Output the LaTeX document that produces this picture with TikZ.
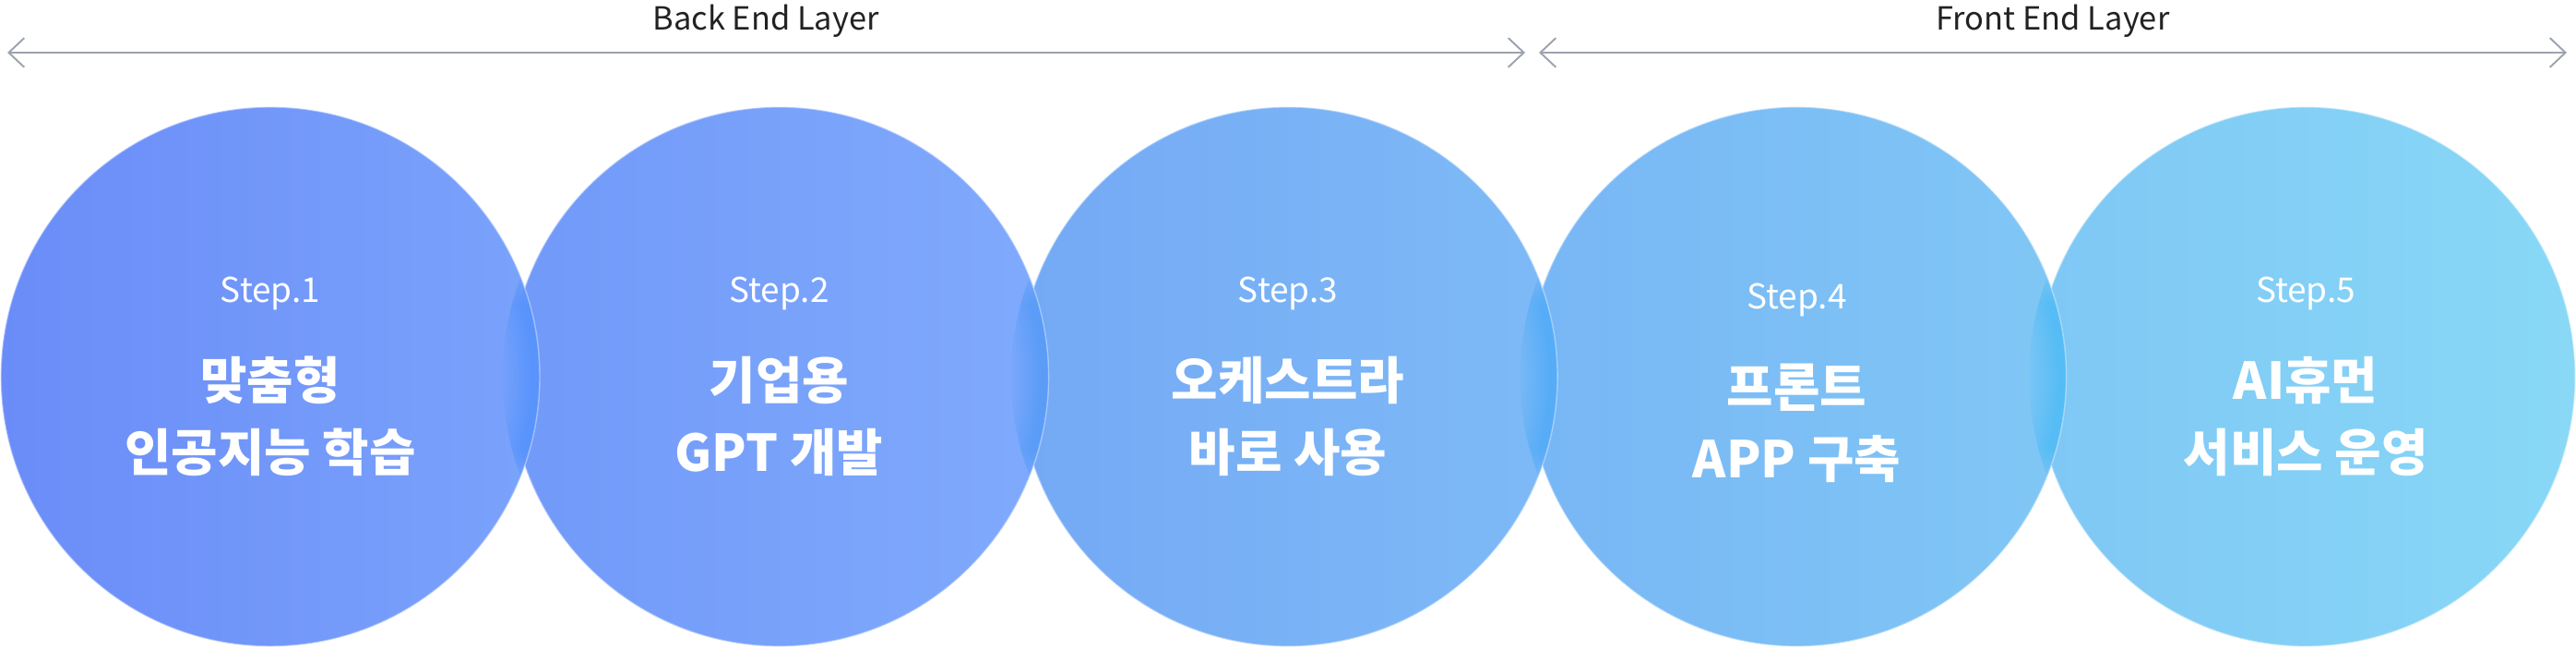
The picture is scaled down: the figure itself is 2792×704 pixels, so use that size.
\documentclass[tikz,border=0pt]{standalone}
\usepackage{fontspec}
\setmainfont{Noto Sans CJK KR}
\usetikzlibrary{arrows.meta,calc,fadings}

\definecolor{cOneL}{HTML}{6A8CF8}
\definecolor{cOneR}{HTML}{7AA3FB}
\definecolor{cTwoL}{HTML}{7199F9}
\definecolor{cTwoR}{HTML}{80AAFC}
\definecolor{cThreeL}{HTML}{74A9F5}
\definecolor{cThreeR}{HTML}{7EBAF6}
\definecolor{cFourL}{HTML}{78B6F5}
\definecolor{cFourR}{HTML}{80C7F5}
\definecolor{cFiveL}{HTML}{7FC7F5}
\definecolor{cFiveR}{HTML}{88D8F6}
\definecolor{gOne}{HTML}{5894FC}
\definecolor{gTwo}{HTML}{5A9CF7}
\definecolor{gThree}{HTML}{56ACF7}
\definecolor{gFour}{HTML}{56BCF5}
\definecolor{layergray}{HTML}{9CA3AE}
\definecolor{layertext}{HTML}{222222}

% rim glows, one per meeting of two circles (circle edge at 25bp)
\pgfdeclareradialshading{glowOne}{\pgfpointorigin}{color(0bp)=(cOneR); color(21bp)=(cOneR); color(24.3bp)=(gOne); color(50bp)=(gOne)}
\pgfdeclareradialshading{glowTwo}{\pgfpointorigin}{color(0bp)=(cTwoR); color(21bp)=(cTwoR); color(24.3bp)=(gTwo); color(50bp)=(gTwo)}
\pgfdeclareradialshading{glowThree}{\pgfpointorigin}{color(0bp)=(cThreeR); color(21bp)=(cThreeR); color(24.3bp)=(gThree); color(50bp)=(gThree)}
\pgfdeclareradialshading{glowFour}{\pgfpointorigin}{color(0bp)=(cFourR); color(21bp)=(cFourR); color(24.3bp)=(gFour); color(50bp)=(gFour)}
% glow fades out towards the tips of the lens
\pgfdeclareverticalshading{midshade}{100bp}{color(0bp)=(pgftransparent!100); color(40bp)=(pgftransparent!100); color(43.5bp)=(pgftransparent!0); color(56.5bp)=(pgftransparent!0); color(60bp)=(pgftransparent!100); color(100bp)=(pgftransparent!100)}
\pgfdeclarefading{midfade}{\pgfuseshading{midshade}}

\tikzset{
  stepcircle/.style={circle, minimum size=5.84cm, inner sep=0pt},
  steprim/.style={white, opacity=0.4, line width=0.4pt},
  steplabel/.style={text=white, font=\fontsize{10.5}{12}\selectfont, anchor=base, inner sep=0pt},
  steptitle/.style={text=white, font=\fontsize{15.6}{22.2}\selectfont\bfseries, align=center, inner sep=0pt},
  layerline/.style={draw=layergray, line width=0.55pt, {Straight Barb[length=4.8pt,width=9pt]}-{Straight Barb[length=4.8pt,width=9pt]}},
  layerlabel/.style={text=layertext, font=\fontsize{9.8}{11}\selectfont, anchor=base, inner sep=0pt}
}

\begin{document}
\begin{tikzpicture}[x=0.01cm,y=0.01cm]
  \useasboundingbox (0,0) rectangle (2792,704);

  % circles
  \foreach \i/\cl/\cr in {1/cOneL/cOneR,2/cTwoL/cTwoR,3/cThreeL/cThreeR,4/cFourL/cFourR,5/cFiveL/cFiveR}
    \node[stepcircle, left color=\cl, right color=\cr] (c\i) at ({293+551.5*(\i-1)},296) {};

  % glow where two circles meet
  \foreach \i/\j/\g in {1/2/glowOne,2/3/glowTwo,3/4/glowThree,4/5/glowFour}{
    \begin{scope}
      \clip (c\j.center) circle (300);
      \shade[shading=\g, path fading=midfade] (c\i.center) circle (292);
    \end{scope}
  }

  % rims (left arcs hidden under the circle before)
  \draw[steprim] (c1.center) circle (292);
  \foreach \j in {2,...,5}
    \draw[steprim] (c\j.center) ++(199.2:292) arc[start angle=199.2, end angle=520.8, radius=292];

  % texts
  \foreach \i/\dy/\ttl in {1/0/{맞춤형\\인공지능 학습},2/0/{기업용\\GPT 개발},3/0/{오케스트라\\바로 사용},4/-7/{프론트\\APP 구축},5/0/{AI휴먼\\서비스 운영}}{
    \node[steplabel] (s\i) at ($(c\i.center)+(0,80+\dy)$) {Step.\i};
    \node[steptitle] (t\i) at ($(c\i.center)+(0,-43+\dy)$) {\ttl};
  }

  % layers
  \coordinate (bl) at (8,647);
  \coordinate (br) at (1653,647);
  \coordinate (fl) at (1668,647);
  \coordinate (fr) at (2782,647);
  \draw[layerline] (bl) -- (br);
  \draw[layerline] (fl) -- (fr);
  \node[layerlabel] (back) at (830,671) {Back End Layer};
  \node[layerlabel] (front) at (2225,671) {Front End Layer};
\end{tikzpicture}
\end{document}
